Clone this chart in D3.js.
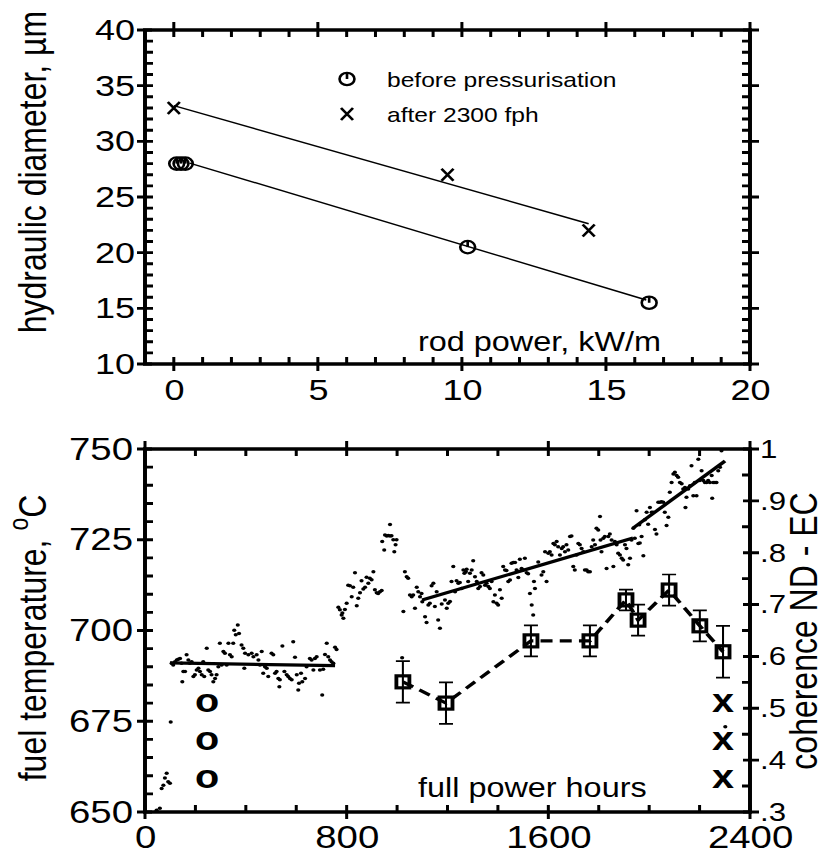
<!DOCTYPE html>
<html><head><meta charset="utf-8">
<script src="https://cdn.jsdelivr.net/npm/d3@7"></script>
<style>
html,body{margin:0;padding:0;background:#fff;}
svg{display:block;}
text{font-family:"Liberation Sans",Arial,Helvetica,sans-serif;fill:#000;}
</style></head><body>
<svg id="chart" width="825" height="855"></svg>
<script>
// ---------------- DATA ----------------
const topXTicks = [0, 5, 10, 15, 20];
const topYTicks = [10, 15, 20, 25, 30, 35, 40];
const beforeX = [0.1, 0.25, 0.4, 10.2, 16.5];
const beforeY = [28, 28, 28, 20.5, 15.5];
const afterX = [0, 9.5, 14.4];
const afterY = [33, 27, 22];
const beforeFit = [[0.55, 28.05], [16.4, 15.75]];
const afterFit = [[0, 33.2], [14.4, 22.6]];
const legendLabels = ["before pressurisation", "after 2300 fph"];

const hourTicks = [0, 800, 1600, 2400];
const tempTicks = [650, 675, 700, 725, 750];
const cohTicks = [0.3, 0.4, 0.5, 0.6, 0.7, 0.8, 0.9, 1.0];
const cohTickLabels = [".3", ".4", ".5", ".6", ".7", ".8", ".9", "1"];

const fuelTemp = [
[46,650.5],[59,651.0],[66,656.5],[73,657.4],[79,659.4],[86,660.7],[92,658.3],[99,657.9],[102,674.8],
[106,691.0],[112,690.5],[119,691.4],[126,691.9],[132,692.1],[139,692.3],[145,691.0],[152,688.7],[148,685.9],[159,688.7],
[165,693.3],[172,691.9],[178,691.0],[185,691.4],[192,687.3],[198,687.8],[205,689.1],[212,689.6],[218,688.7],[225,687.8],
[231,691.4],[235,687.3],[245,695.1],[251,689.1],[258,688.7],[264,687.8],[271,685.9],[278,686.8],[284,687.8],[291,690.0],
[297,696.5],[304,690.5],[311,694.2],[317,693.7],[324,690.5],[331,696.5],[337,693.3],[344,692.8],[350,696.5],[354,700.1],
[360,698.8],[368,701.5],[373,699.2],[383,696.0],[390,695.1],[394,689.6],[397,693.7],[410,693.3],[423,693.7],[430,692.8],
[443,693.3],[450,691.9],[456,690.5],[463,694.2],[469,688.2],[476,690.0],[483,689.6],[489,687.3],[502,693.7],[509,693.3],
[516,688.2],[522,688.7],[529,686.8],[535,686.4],[533,684.5],[545,695.7],[553,688.7],[562,687.8],[568,687.3],[575,686.8],
[582,686.4],[588,696.9],[595,692.6],[602,687.8],[608,683.6],[611,685.5],[619,688.2],[624,685.9],[635,686.8],[641,690.0],
[654,692.3],[661,691.9],[668,689.1],[674,692.3],[681,692.8],[694,689.1],[703,682.2],[707,689.3],[714,693.4],[721,696.5],
[727,692.8],[734,691.9],[740,691.4],[747,691.0],[754,695.4],[760,694.8],
[767,706.4],[773,705.7],[780,704.3],[787,703.4],[783,704.8],[793,705.8],[800,707.5],[806,712.5],[813,712.3],[820,709.3],
[826,711.9],[833,715.9],[840,706.8],[846,708.9],[853,710.4],[859,713.7],[866,711.4],[873,711.9],[879,714.7],[886,713.0],
[892,714.4],[899,714.0],[906,716.2],[912,711.2],[919,710.4],[925,710.2],[932,710.7],[939,711.0],
[941,724.5],[949,722.2],[952,726.3],[959,726.0],[965,726.2],[972,729.2],[972,726.0],[978,726.1],[985,725.0],[989,721.7],
[994,723.6],[998,725.0],[1020,692.5],
[1025,705.2],[1031,716.2],[1038,714.8],[1044,714.4],[1051,709.8],[1058,709.3],[1064,709.8],[1071,706.1],[1078,711.9],
[1084,710.7],[1091,709.3],[1097,710.2],[1100,707.9],[1111,703.8],[1117,702.2],[1124,707.0],[1130,707.5],[1137,712.3],
[1144,713.0],[1150,706.6],[1157,710.7],[1163,702.9],[1170,700.6],[1177,707.3],
[1190,708.4],[1197,706.1],[1203,707.5],[1210,708.0],[1216,713.5],[1223,717.6],[1230,710.7],[1236,713.7],[1243,713.0],
[1249,713.2],[1256,711.6],[1263,716.7],[1267,715.8],[1273,716.2],[1276,716.9],[1282,713.5],[1289,715.8],[1296,716.7],
[1302,719.2],[1309,714.8],[1316,713.5],[1322,711.6],[1329,712.1],[1335,715.9],[1342,715.3],[1349,712.5],[1355,713.0],
[1362,712.1],[1368,711.6],[1375,713.5],[1382,707.9],[1388,709.8],[1395,707.5],[1401,707.0],[1408,711.2],[1415,708.9],
[1421,717.6],[1428,716.7],[1434,716.5],[1441,713.5],[1448,713.9],[1454,718.5],[1461,718.7],[1468,718.7],[1474,716.7],
[1481,714.6],[1487,719.6],[1494,717.1],[1501,716.7],[1507,719.9],[1514,715.9],[1520,715.6],[1527,710.2],[1534,707.0],
[1540,704.3],[1543,713.5],[1547,711.6],[1560,718.9],
[1573,715.3],[1580,716.2],[1587,721.7],[1593,713.5],[1600,721.3],[1606,721.7],[1613,720.8],[1620,724.0],[1626,723.6],
[1633,724.5],[1639,723.1],[1646,720.8],[1653,722.6],[1659,723.1],[1666,721.7],[1672,723.6],[1679,722.2],[1686,725.9],
[1692,726.0],[1699,717.6],[1705,716.7],[1712,720.8],[1719,724.0],[1725,723.6],[1732,722.6],[1739,721.7],[1745,716.7],
[1752,716.7],[1758,716.2],[1765,716.2],[1772,723.1],[1778,724.9],[1785,723.6],[1791,728.2],[1798,727.7],[1805,731.4],
[1807,724.9],[1811,721.7],[1818,725.4],[1824,725.9],[1831,717.1],[1838,725.9],[1844,726.6],[1851,724.9],[1858,717.6],
[1864,724.5],[1871,723.6],[1877,721.3],[1884,720.8],[1891,719.9],[1897,719.4],[1904,723.6],[1910,722.6],[1917,718.1],
[1924,719.9],[1930,724.9],[1937,728.2],[1943,725.4],[1950,733.0],[1957,724.0],[1961,729.1],
[1963,724.1],[1970,725.9],[1977,720.6],[1983,730.5],[1990,732.6],[1996,729.3],[2003,733.9],[2010,732.6],[2016,732.6],
[2023,727.8],[2029,726.6],[2036,735.3],[2043,735.3],[2049,735.5],[2056,735.3],[2062,732.6],[2069,728.9],[2076,731.2],
[2082,738.1],[2089,740.8],[2096,743.1],[2102,743.6],[2109,742.7],[2115,742.2],[2122,740.8],[2129,740.4],[2135,739.0],
[2142,739.4],[2144,733.9],[2148,736.7],[2155,739.0],[2162,739.9],[2168,745.4],[2175,737.1],[2181,740.8],[2188,737.1],
[2195,747.2],[2201,741.3],[2208,744.0],[2215,741.3],[2221,740.8],[2228,740.8],[2234,741.3],[2241,740.8],[2248,742.7],
[2250,736.4],[2254,740.8],[2261,740.8],[2267,740.8],[2274,744.0],[2281,745.0],[2287,749.5],[2302,673.5]
];
const fitLines = [
  [[99, 691.1], [754, 690.3]],
  [[1099, 708.4], [1936, 725.5]],
  [[1936, 728.2], [2301, 746.7]]
];
const cohHours  = [1023, 1194, 1531, 1765, 1908, 1956, 2079, 2201, 2293];
const cohValues = [0.551, 0.510, 0.630, 0.630, 0.709, 0.670, 0.728, 0.659, 0.609];
const cohErr    = [0.04, 0.04, 0.03, 0.03, 0.02, 0.03, 0.03, 0.03, 0.05];
const markerTemps = [680, 669.5, 659];
const beforeMarkHour = 246;
const afterMarkHour = 2293;

// ---------------- DRAW ----------------
const SX = 1.2;
const ux = v => v / SX;
const FONT = '"Liberation Sans", Arial, sans-serif';

const svg = d3.select("#chart");
const root = svg.append("g").attr("transform", `scale(${SX},1)`);

function labelAxis(g, axis, fs) {
  g.call(axis).attr("font-family", FONT).attr("font-size", fs);
  g.select(".domain").remove();
  g.selectAll(".tick line").remove();
  g.selectAll("text").attr("fill", "#000");
}
function tickPath(g, d, w) {
  g.append("path").attr("d", d).attr("fill", "none").attr("stroke", "#000").attr("stroke-width", w);
}
function vTickD(x, ys, values, left, right) {
  return values.map(v => `M${x - left},${ys(v)}H${x + right}`).join("");
}
function hTickD(y, xs, values, up, down) {
  return values.map(v => `M${xs(v)},${y - up}V${y + down}`).join("");
}

function frameTicks(g, xs, ys, o) {
  const [x0, x1] = xs.range(), [y0, y1] = ys.range();
  const d = [
    vTickD(x0, ys, o.yMinor, 0, ux(8)),
    vTickD(x1, o.rScale, o.rMinor, ux(8), 0),
    vTickD(x0, ys, o.yMajor, ux(8), ux(7)),
    vTickD(x1, o.rScale, o.rMajor, ux(7), ux(9))
  ].join("");
  tickPath(g, d, 2.9);
  const dh = [
    hTickD(y0, xs, o.xMinor, 7, 0),
    hTickD(y1, xs, o.xMinor, 0, 7),
    hTickD(y0, xs, o.xMajor, 7, 7),
    hTickD(y1, xs, o.xMajor, 8, 7)
  ].join("");
  tickPath(g, dh, 2.5);
  tickPath(g, `M${x0},${y1}H${x1}V${y0}H${x0}Z`, 3.3);
}
function frameLabels(g, xs, ys, o) {
  const [x0, x1] = xs.range(), [y0] = ys.range();
  labelAxis(g.append("g").attr("transform", `translate(${x0},0)`),
    d3.axisLeft(ys).tickValues(o.yMajor).tickSize(0).tickPadding(o.yPad).tickFormat(o.yFmt), o.yFs);
  if (o.rFmt) labelAxis(g.append("g").attr("transform", `translate(${x1},0)`),
    d3.axisRight(o.rScale).tickValues(o.rMajor).tickSize(0).tickPadding(o.rPad).tickFormat(o.rFmt), o.rFs);
  labelAxis(g.append("g").attr("transform", `translate(0,${y0})`),
    d3.axisBottom(xs).tickValues(o.xMajor).tickSize(0).tickPadding(o.xPad).tickFormat(o.xFmt), o.xFs);
}

// ===== TOP PANEL =====
const xTop = d3.scaleLinear().domain([-1, 20]).range([ux(145), ux(750)]);
const yTop = d3.scaleLinear().domain([10, 40]).range([364, 30]);
const gTop = root.append("g");
const topOpts = {
  yMajor: topYTicks, yMinor: d3.range(11, 40, 1), yPad: ux(10), yFmt: d3.format("d"), yFs: 30,
  rScale: yTop, rMajor: topYTicks, rMinor: d3.range(11, 40, 1), rFmt: null,
  xMajor: topXTicks, xMinor: d3.range(0, 20, 1), xPad: 15, xFmt: d3.format("d"), xFs: 30
};
frameLabels(gTop, xTop, yTop, topOpts);

const lineTop = d3.line().x(d => xTop(d[0])).y(d => yTop(d[1]));
gTop.append("path").attr("d", lineTop(beforeFit)).attr("fill", "none").attr("stroke", "#000").attr("stroke-width", 1.4);
gTop.append("path").attr("d", lineTop(afterFit)).attr("fill", "none").attr("stroke", "#000").attr("stroke-width", 1.4);

function circleMark(g, cx, cy) {
  const r = 6.2;
  g.append("circle").attr("cx", cx).attr("cy", cy).attr("r", r)
    .attr("fill", "none").attr("stroke", "#000").attr("stroke-width", 2.2);
  g.append("path").attr("d", `M${cx},${cy}V${cy - r}`).attr("stroke", "#000").attr("stroke-width", 2.2);
}
function crossMark(g, cx, cy) {
  g.append("path").attr("d", `M${cx-5},${cy-6}L${cx+5},${cy+6}M${cx-5},${cy+6}L${cx+5},${cy-6}`)
    .attr("stroke", "#000").attr("stroke-width", 2.3).attr("fill", "none");
}
beforeX.forEach((v, i) => circleMark(gTop, xTop(v), yTop(beforeY[i])));
afterX.forEach((v, i) => crossMark(gTop, xTop(v), yTop(afterY[i])));

circleMark(gTop, ux(347), 79);
crossMark(gTop, ux(347), 114);
gTop.append("text").attr("x", ux(387)).attr("y", 87).attr("font-size", 20.5).text(legendLabels[0]);
gTop.append("text").attr("x", ux(387)).attr("y", 122).attr("font-size", 20.5).text(legendLabels[1]);

gTop.append("text").attr("x", ux(418)).attr("y", 351).attr("font-size", 27).text("rod power, kW/m");
gTop.append("text").attr("transform", `translate(${ux(45.5)},172) rotate(-90)`)
  .attr("text-anchor", "middle").attr("font-size", 32).text("hydraulic diameter, \u00b5m");

frameTicks(gTop, xTop, yTop, topOpts);

// ===== BOTTOM PANEL =====
const xB = d3.scaleLinear().domain([0, 2400]).range([ux(145), ux(750)]);
const yT = d3.scaleLinear().domain([650, 750]).range([812, 449]);
const yC = d3.scaleLinear().domain([0.3, 1.0]).range([812, 449]);
const gB = root.append("g");
const botOpts = {
  yMajor: tempTicks, yMinor: d3.range(655, 750, 5), yPad: ux(12), yFmt: d3.format("d"), yFs: 32,
  rScale: yC, rMajor: cohTicks, rMinor: d3.range(0.35, 1.0, 0.1), rPad: ux(10),
  rFmt: (d) => cohTickLabels[cohTicks.findIndex(v => Math.abs(v - d) < 1e-6)], rFs: 26,
  xMajor: hourTicks, xMinor: d3.range(200, 2400, 200), xPad: 13.5, xFmt: d3.format("d"), xFs: 32
};
frameLabels(gB, xB, yT, botOpts);

gB.append("g").selectAll("circle").data(fuelTemp).join("circle")
  .attr("cx", d => xB(d[0])).attr("cy", d => yT(d[1])).attr("r", 1.75).attr("fill", "#000");

const lineB = d3.line().x(d => xB(d[0])).y(d => yT(d[1]));
fitLines.forEach(seg => gB.append("path").attr("d", lineB(seg)).attr("fill", "none")
  .attr("stroke", "#000").attr("stroke-width", 3.2));

const cohData = cohHours.map((h, i) => ({ h, v: cohValues[i], e: cohErr[i] }));
gB.append("path").attr("d", d3.line().x(d => xB(d.h)).y(d => yC(d.v))(cohData))
  .attr("fill", "none").attr("stroke", "#000").attr("stroke-width", 3.2).attr("stroke-dasharray", "10,6");
const ebD = cohData.map(d => {
  const x = xB(d.h), cw = ux(7), t = yC(d.v + d.e), b = yC(d.v - d.e);
  return `M${x},${b}V${t}M${x - cw},${t}H${x + cw}M${x - cw},${b}H${x + cw}`;
}).join("");
gB.append("path").attr("d", ebD).attr("fill", "none").attr("stroke", "#000").attr("stroke-width", 1.7);
gB.append("g").selectAll("rect").data(cohData).join("rect")
  .attr("x", d => xB(d.h) - ux(6.5)).attr("y", d => yC(d.v) - 6)
  .attr("width", ux(13)).attr("height", 12)
  .attr("fill", "none").attr("stroke", "#000").attr("stroke-width", 3.2);

markerTemps.forEach(t => {
  gB.append("text").attr("x", xB(beforeMarkHour)).attr("y", yT(t)).attr("dy", "0.27em")
    .attr("text-anchor", "middle").attr("font-size", 33).attr("font-weight", "bold").text("o");
  gB.append("text").attr("x", xB(afterMarkHour)).attr("y", yT(t)).attr("dy", "0.27em")
    .attr("text-anchor", "middle").attr("font-size", 33).attr("font-weight", "bold").text("x");
});

gB.append("text").attr("x", ux(418)).attr("y", 797).attr("font-size", 27).text("full power hours");

const ft = gB.append("text").attr("transform", `translate(${ux(45.5)},638) rotate(-90)`)
  .attr("text-anchor", "middle").attr("font-size", 32);
ft.append("tspan").text("fuel temperature, ");
ft.append("tspan").attr("dy", -15).attr("font-size", 23).text("o");
ft.append("tspan").attr("dy", 15).text("C");

gB.append("text").attr("transform", `translate(${ux(817)},631) rotate(-90)`)
  .attr("text-anchor", "middle").attr("font-size", 32).text("coherence ND - EC");

frameTicks(gB, xB, yT, botOpts);
</script>
</body></html>
